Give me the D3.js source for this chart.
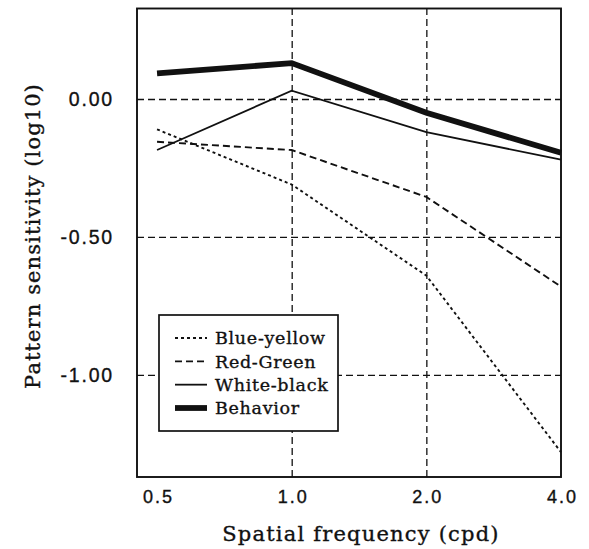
<!DOCTYPE html>
<html>
<head>
<meta charset="utf-8">
<script src="https://cdn.jsdelivr.net/npm/d3@7/dist/d3.min.js"></script>
<style>
  html, body { margin: 0; padding: 0; background: #fff; }
  svg { display: block; }
</style>
</head>
<body>
<svg id="chart" width="589" height="549"></svg>
<script>
// ---- data ----
const frequencies = [0.5, 1.0, 2.0, 4.0];
const blueYellow  = [-0.11, -0.31, -0.64, -1.28];
const redGreen    = [-0.155, -0.185, -0.355, -0.68];
const whiteBlack  = [-0.185, 0.03, -0.12, -0.22];
const behavior    = [0.093, 0.13, -0.05, -0.195];
const seriesNames = ["Blue-yellow", "Red-Green", "White-black", "Behavior"];
const xTickValues = [0.5, 1.0, 2.0, 4.0];
const yTickValues = [0.0, -0.5, -1.0];
const xTitle = "Spatial frequency (cpd)";
const yTitle = "Pattern sensitivity (log10)";

const seriesValues = [blueYellow, redGreen, whiteBlack, behavior];
const styles = [
  { width: 1.9, dash: "3,3" },
  { width: 1.9, dash: "7,4" },
  { width: 1.8, dash: null },
  { width: 5.8, dash: null }
];

// ---- layout ----
const svg = d3.select("#chart");
const plot = { left: 137, right: 561, top: 8.5, bottom: 477 };

const x = d3.scaleLog().domain([0.451, 4]).range([plot.left, plot.right]);
const y = d3.scaleLinear().domain([-1.37, 0.328]).range([plot.bottom, plot.top]);

const ink = "#111";
const styleText = (sel, family, size, spacing) => sel
  .attr("font-family", family).attr("font-size", size)
  .attr("letter-spacing", spacing)
  .attr("fill", ink).attr("stroke", ink).attr("stroke-width", 0.35);

// grid lines
const gridG = svg.append("g");
gridG.append("g")
  .attr("transform", `translate(0,${plot.bottom})`)
  .call(d3.axisBottom(x).tickValues([1, 2]).tickSize(-(plot.bottom - plot.top)).tickFormat(""))
  .call(g => g.select(".domain").remove())
  .call(g => g.selectAll("line").attr("stroke", ink).attr("stroke-width", 1.3).attr("stroke-dasharray", "7,4"));
gridG.append("g")
  .attr("transform", `translate(${plot.left},0)`)
  .call(d3.axisLeft(y).tickValues(yTickValues).tickSize(-(plot.right - plot.left)).tickFormat(""))
  .call(g => g.select(".domain").remove())
  .call(g => g.selectAll("line").attr("stroke", ink).attr("stroke-width", 1.3).attr("stroke-dasharray", "7,4"));

// tick labels
svg.append("g")
  .attr("transform", `translate(1,${plot.bottom})`)
  .call(d3.axisBottom(x).tickValues(xTickValues).tickSize(0).tickPadding(13).tickFormat(d => d.toFixed(1)))
  .call(g => g.select(".domain").remove())
  .call(g => styleText(g.selectAll("text"), "'Liberation Sans', Arial, sans-serif", 18, 2));

svg.append("g")
  .attr("transform", `translate(${plot.left},0)`)
  .call(d3.axisLeft(y).tickValues(yTickValues).tickSize(0).tickPadding(23).tickFormat(d => d.toFixed(2)))
  .call(g => g.select(".domain").remove())
  .call(g => styleText(g.selectAll("text"), "'Liberation Sans', Arial, sans-serif", 19.5, 1.8));

// plot frame
svg.append("rect")
  .attr("x", plot.left).attr("y", plot.top)
  .attr("width", plot.right - plot.left).attr("height", plot.bottom - plot.top)
  .attr("fill", "none").attr("stroke", ink).attr("stroke-width", 1.9);

// series lines
const line = d3.line().x(d => x(d[0])).y(d => y(d[1]));
seriesValues.forEach((vals, i) => {
  const pts = frequencies.map((f, j) => [f, vals[j]]);
  svg.append("path")
    .datum(pts)
    .attr("d", line)
    .attr("fill", "none")
    .attr("stroke", ink)
    .attr("stroke-width", styles[i].width)
    .attr("stroke-dasharray", styles[i].dash)
    .attr("stroke-linejoin", "miter");
});

// legend
const legend = svg.append("g");
legend.append("rect")
  .attr("x", 159).attr("y", 315).attr("width", 179).attr("height", 116)
  .attr("fill", "#fff").attr("stroke", ink).attr("stroke-width", 1.7);
const rowY = d3.scalePoint().domain(seriesNames).range([338, 408]);
seriesNames.forEach((name, i) => {
  legend.append("line")
    .attr("x1", 175).attr("x2", 207)
    .attr("y1", rowY(name)).attr("y2", rowY(name))
    .attr("stroke", ink)
    .attr("stroke-width", styles[i].width)
    .attr("stroke-dasharray", styles[i].dash);
  styleText(legend.append("text")
    .attr("x", 215).attr("y", rowY(name))
    .attr("dy", "0.36em"), "'DejaVu Serif', serif", 17.5, 0.7)
    .text(name);
});

// axis titles
styleText(svg.append("text")
  .attr("x", 361).attr("y", 541)
  .attr("text-anchor", "middle"), "'DejaVu Serif', serif", 21, 1.2)
  .text(xTitle);

styleText(svg.append("text")
  .attr("transform", "translate(40,236) rotate(-90)")
  .attr("text-anchor", "middle"), "'DejaVu Serif', serif", 21, 1.1)
  .text(yTitle);
</script>
</body>
</html>
